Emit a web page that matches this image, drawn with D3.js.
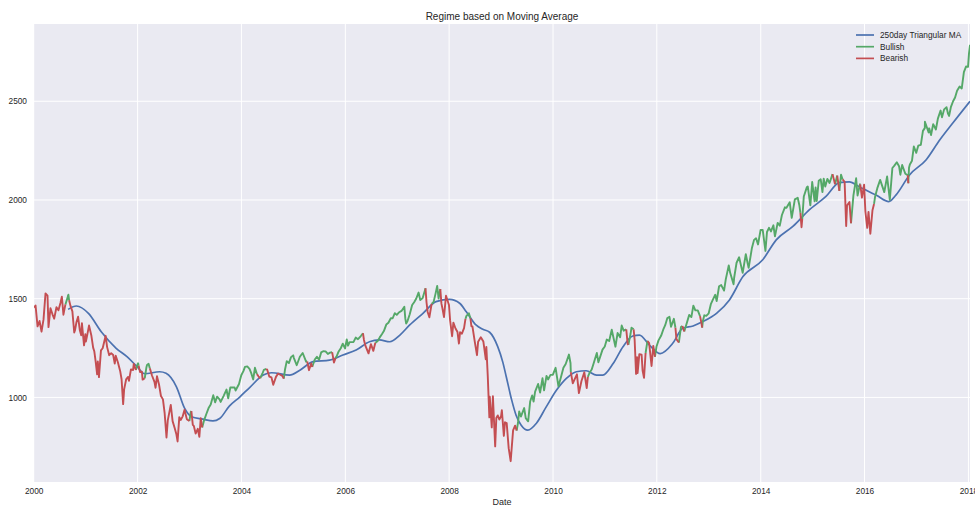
<!DOCTYPE html>
<html>
<head>
<meta charset="utf-8">
<script src="https://cdn.jsdelivr.net/npm/d3@7"></script>
<style>
  body { margin: 0; background: #fff; }
  svg { display: block; font-family: "Liberation Sans", Arial, sans-serif; }
</style>
</head>
<body>
<script>
// S&P 500 close (roughly two points a month)
const closePrices = [
  ["2000-01-03",1455],["2000-01-14",1465],["2000-01-28",1360],["2000-02-11",1387],["2000-02-25",1333],["2000-03-10",1395],
  ["2000-03-24",1527],["2000-04-07",1516],["2000-04-14",1356],["2000-04-28",1452],["2000-05-12",1421],["2000-05-24",1399],
  ["2000-06-09",1457],["2000-06-23",1441],["2000-07-07",1478],["2000-07-17",1510],["2000-07-28",1419],["2000-08-11",1471],
  ["2000-08-31",1517],["2000-09-01",1520],["2000-09-06",1492],["2000-09-15",1465],["2000-09-29",1436],["2000-10-12",1329],
  ["2000-10-18",1342],["2000-10-27",1379],["2000-11-08",1409],["2000-11-20",1342],["2000-11-30",1315],["2000-12-05",1376],
  ["2000-12-20",1264],["2000-12-29",1320],
  ["2001-01-02",1283],["2001-01-12",1318],["2001-01-24",1364],["2001-02-09",1315],["2001-02-22",1252],["2001-03-02",1234],
  ["2001-03-12",1180],["2001-03-22",1117],["2001-03-27",1182],["2001-04-04",1103],["2001-04-18",1238],["2001-04-30",1249],
  ["2001-05-21",1312],["2001-05-31",1256],["2001-06-15",1214],["2001-06-29",1224],["2001-07-13",1215],["2001-07-24",1171],
  ["2001-07-31",1211],["2001-08-15",1178],["2001-08-31",1134],["2001-09-10",1092],["2001-09-21",966],["2001-09-28",1041],
  ["2001-10-12",1091],["2001-10-26",1104],["2001-11-01",1084],["2001-11-15",1142],["2001-11-30",1139],["2001-12-05",1170],
  ["2001-12-20",1139],["2001-12-28",1161],
  ["2002-01-04",1173],["2002-01-08",1160],["2002-01-18",1128],["2002-01-31",1130],["2002-02-05",1090],["2002-02-20",1097],
  ["2002-03-04",1153],["2002-03-08",1164],["2002-03-19",1170],["2002-03-28",1147],["2002-04-12",1111],["2002-04-30",1077],
  ["2002-05-07",1049],["2002-05-17",1107],["2002-05-31",1067],["2002-06-14",1007],["2002-06-28",990],["2002-07-10",920],
  ["2002-07-23",797],["2002-08-01",884],["2002-08-22",962],["2002-09-04",880],["2002-09-19",844],["2002-09-30",815],
  ["2002-10-09",777],["2002-10-21",900],["2002-10-31",886],["2002-11-14",904],["2002-11-27",938],["2002-12-13",890],
  ["2002-12-31",880],
  ["2003-01-10",927],["2003-01-14",931],["2003-01-24",861],["2003-01-31",856],["2003-02-13",817],["2003-02-28",841],
  ["2003-03-11",800],["2003-03-21",895],["2003-03-31",848],["2003-04-14",885],["2003-04-30",917],["2003-05-15",946],
  ["2003-05-30",964],["2003-06-17",1011],["2003-06-30",975],["2003-07-14",1004],["2003-07-31",990],["2003-08-08",977],
  ["2003-08-29",1008],["2003-09-18",1040],["2003-09-30",996],["2003-10-15",1050],["2003-10-31",1051],["2003-11-14",1050],
  ["2003-11-21",1035],["2003-12-15",1068],["2003-12-31",1112],
  ["2004-01-15",1133],["2004-01-26",1155],["2004-02-11",1157],["2004-02-27",1145],["2004-03-10",1123],["2004-03-24",1091],
  ["2004-04-05",1150],["2004-04-19",1118],["2004-04-30",1107],["2004-05-12",1097],["2004-05-28",1121],["2004-06-07",1140],
  ["2004-06-23",1144],["2004-06-30",1141],["2004-07-15",1106],["2004-07-30",1102],["2004-08-12",1064],["2004-08-31",1104],
  ["2004-09-15",1121],["2004-09-30",1115],["2004-10-15",1109],["2004-10-25",1095],["2004-11-03",1143],["2004-11-15",1184],
  ["2004-11-30",1174],["2004-12-15",1204],["2004-12-30",1213],
  ["2005-01-03",1202],["2005-01-24",1163],["2005-02-15",1206],["2005-03-07",1225],["2005-03-31",1181],["2005-04-08",1182],
  ["2005-04-20",1138],["2005-05-06",1172],["2005-05-13",1154],["2005-05-31",1192],["2005-06-15",1206],["2005-06-30",1191],
  ["2005-07-15",1228],["2005-07-29",1234],["2005-08-15",1233],["2005-08-31",1220],["2005-09-15",1227],["2005-09-30",1229],
  ["2005-10-04",1214],["2005-10-13",1177],["2005-10-24",1199],["2005-10-31",1207],["2005-11-15",1233],["2005-11-30",1249],
  ["2005-12-14",1272],["2005-12-30",1248],
  ["2006-01-11",1294],["2006-01-20",1262],["2006-01-31",1280],["2006-02-15",1280],["2006-02-28",1281],["2006-03-15",1303],
  ["2006-03-31",1295],["2006-04-20",1311],["2006-05-05",1325],["2006-05-12",1291],["2006-05-22",1262],["2006-06-13",1223],
  ["2006-06-30",1270],["2006-07-17",1236],["2006-07-31",1277],["2006-08-15",1285],["2006-08-31",1304],["2006-09-15",1320],
  ["2006-09-29",1336],["2006-10-16",1369],["2006-10-31",1378],["2006-11-17",1401],["2006-11-30",1401],["2006-12-15",1427],
  ["2006-12-29",1418],
  ["2007-01-12",1430],["2007-01-31",1438],["2007-02-20",1459],["2007-02-27",1399],["2007-03-05",1374],["2007-03-15",1388],
  ["2007-03-30",1421],["2007-04-16",1468],["2007-04-30",1482],["2007-05-15",1501],["2007-05-31",1531],["2007-06-12",1493],
  ["2007-06-29",1503],["2007-07-19",1553],["2007-07-26",1482],["2007-08-03",1433],["2007-08-15",1406],["2007-08-31",1474],
  ["2007-09-14",1484],["2007-09-28",1527],["2007-10-09",1565],["2007-10-19",1501],["2007-10-31",1549],["2007-11-08",1475],
  ["2007-11-15",1451],["2007-11-26",1407],["2007-12-10",1515],["2007-12-31",1468],
  ["2008-01-08",1390],["2008-01-22",1310],["2008-01-31",1379],["2008-02-15",1349],["2008-02-29",1331],["2008-03-10",1273],
  ["2008-03-18",1330],["2008-03-31",1323],["2008-04-15",1351],["2008-04-25",1398],["2008-05-02",1413],["2008-05-19",1426],
  ["2008-05-30",1400],["2008-06-06",1360],["2008-06-13",1360],["2008-06-30",1280],["2008-07-15",1214],["2008-07-23",1282],
  ["2008-08-11",1305],["2008-08-29",1283],["2008-09-15",1193],["2008-09-19",1255],["2008-09-29",1106],["2008-10-10",899],
  ["2008-10-13",1003],["2008-10-27",848],["2008-11-04",1006],["2008-11-20",752],["2008-11-28",896],["2008-12-08",909],
  ["2008-12-19",888],["2008-12-31",903],
  ["2009-01-06",935],["2009-01-20",805],["2009-01-28",874],["2009-02-09",870],["2009-02-23",743],["2009-03-09",677],
  ["2009-03-26",833],["2009-04-09",857],["2009-04-20",832],["2009-04-30",873],["2009-05-08",929],["2009-05-20",903],
  ["2009-06-12",946],["2009-06-23",895],["2009-07-10",879],["2009-07-24",979],["2009-08-07",1010],["2009-08-17",979],
  ["2009-08-28",1029],["2009-09-18",1068],["2009-10-02",1025],["2009-10-19",1097],["2009-10-30",1036],["2009-11-16",1109],
  ["2009-11-27",1091],["2009-12-14",1114],["2009-12-31",1115],
  ["2010-01-19",1150],["2010-02-08",1056],["2010-02-26",1104],["2010-03-15",1150],["2010-03-31",1169],["2010-04-23",1217],
  ["2010-05-04",1173],["2010-05-06",1128],["2010-05-20",1071],["2010-05-31",1089],["2010-06-18",1117],["2010-07-02",1022],
  ["2010-07-20",1083],["2010-08-09",1127],["2010-08-26",1047],["2010-09-03",1104],["2010-09-15",1125],["2010-09-30",1141],
  ["2010-10-15",1176],["2010-11-05",1225],["2010-11-16",1178],["2010-12-15",1242],["2010-12-31",1258],
  ["2011-01-14",1293],["2011-01-31",1286],["2011-02-18",1343],["2011-03-01",1306],["2011-03-16",1257],["2011-03-31",1326],
  ["2011-04-18",1305],["2011-04-29",1364],["2011-05-13",1338],["2011-05-31",1345],["2011-06-10",1271],["2011-06-15",1266],
  ["2011-06-30",1321],["2011-07-07",1353],["2011-07-22",1345],["2011-07-29",1292],["2011-08-08",1119],["2011-08-15",1204],
  ["2011-08-19",1124],["2011-08-31",1219],["2011-09-16",1216],["2011-09-23",1136],["2011-10-03",1099],["2011-10-14",1225],
  ["2011-10-27",1285],["2011-10-28",1285],["2011-11-08",1275],["2011-11-25",1159],["2011-12-07",1261],["2011-12-19",1206],
  ["2011-12-30",1258],
  ["2012-01-13",1289],["2012-01-31",1312],["2012-02-15",1343],["2012-02-29",1366],["2012-03-15",1402],["2012-03-30",1408],
  ["2012-04-10",1358],["2012-04-30",1398],["2012-05-11",1353],["2012-05-18",1295],["2012-06-04",1278],["2012-06-19",1357],
  ["2012-06-29",1362],["2012-07-12",1334],["2012-07-31",1379],["2012-08-16",1418],["2012-08-31",1407],["2012-09-14",1465],
  ["2012-09-28",1441],["2012-10-15",1441],["2012-10-31",1412],["2012-11-09",1380],["2012-11-15",1353],["2012-11-20",1387],
  ["2012-11-30",1416],["2012-12-14",1413],["2012-12-31",1426],
  ["2013-01-15",1472],["2013-01-31",1498],["2013-02-15",1520],["2013-02-25",1488],["2013-03-14",1563],["2013-03-29",1569],
  ["2013-04-18",1541],["2013-04-30",1598],["2013-05-21",1669],["2013-05-31",1631],["2013-06-24",1573],["2013-06-28",1606],
  ["2013-07-15",1682],["2013-08-02",1710],["2013-08-27",1631],["2013-09-18",1726],["2013-09-30",1682],["2013-10-08",1656],
  ["2013-10-31",1757],["2013-11-15",1798],["2013-11-29",1806],["2013-12-13",1775],["2013-12-31",1848],
  ["2014-01-15",1848],["2014-02-03",1742],["2014-02-14",1838],["2014-02-28",1859],["2014-03-14",1841],["2014-03-31",1872],
  ["2014-04-11",1816],["2014-04-30",1884],["2014-05-15",1870],["2014-05-30",1924],["2014-06-20",1963],["2014-06-30",1960],
  ["2014-07-24",1988],["2014-08-07",1910],["2014-08-29",2003],["2014-09-18",2011],["2014-09-30",1972],["2014-10-07",1935],
  ["2014-10-10",1906],["2014-10-15",1862],["2014-10-20",1904],["2014-10-31",2018],["2014-11-21",2064],["2014-11-28",2068],
  ["2014-12-16",1973],["2014-12-29",2091],
  ["2015-01-15",1993],["2015-01-22",2063],["2015-01-30",1995],["2015-02-13",2097],["2015-02-27",2105],["2015-03-11",2040],
  ["2015-03-20",2108],["2015-03-31",2068],["2015-04-15",2107],["2015-04-30",2086],["2015-05-21",2131],["2015-06-08",2080],
  ["2015-06-23",2124],["2015-07-08",2046],["2015-07-20",2128],["2015-07-31",2104],["2015-08-14",2092],["2015-08-25",1868],
  ["2015-08-31",1972],["2015-09-17",1990],["2015-09-28",1882],["2015-10-15",2023],["2015-11-03",2110],["2015-11-13",2023],
  ["2015-11-30",2080],["2015-12-02",2079],["2015-12-14",2012],["2015-12-29",2078],
  ["2016-01-07",1943],["2016-01-20",1859],["2016-01-29",1940],["2016-02-11",1829],["2016-02-26",1948],["2016-03-08",1980],
  ["2016-03-15",2015],["2016-03-31",2060],["2016-04-20",2102],["2016-05-19",2040],["2016-06-08",2119],["2016-06-27",2001],
  ["2016-07-15",2162],["2016-07-29",2174],["2016-08-15",2191],["2016-08-31",2171],["2016-09-09",2128],["2016-09-22",2177],
  ["2016-10-14",2133],["2016-10-31",2126],["2016-11-04",2085],["2016-11-09",2163],["2016-11-15",2180],["2016-11-30",2199],
  ["2016-12-13",2271],["2016-12-30",2239],
  ["2017-01-13",2275],["2017-01-31",2279],["2017-02-15",2350],["2017-02-28",2364],["2017-03-01",2396],["2017-03-27",2342],
  ["2017-03-31",2363],["2017-04-13",2329],["2017-04-28",2384],["2017-05-17",2357],["2017-05-31",2412],["2017-06-19",2453],
  ["2017-06-29",2419],["2017-07-14",2459],["2017-07-31",2470],["2017-08-10",2438],["2017-08-18",2426],["2017-08-31",2472],
  ["2017-09-15",2500],["2017-09-29",2519],["2017-10-13",2553],["2017-10-31",2575],["2017-11-15",2565],["2017-11-30",2648],
  ["2017-12-15",2676],["2017-12-29",2674],["2018-01-05",2743],["2018-01-12",2786]
];

// 250 day triangular moving average
const movingAverage = [
  ["2000-08-30",1446],["2000-10-27",1463],["2001-01-20",1426],["2001-04-20",1333],["2001-08-03",1249],["2001-10-20",1205],
  ["2001-12-25",1158],["2002-02-20",1120],["2002-06-05",1130],["2002-07-20",1122],["2002-10-01",1054],["2002-11-28",944],
  ["2003-01-15",902],["2003-04-05",890],["2003-06-15",881],["2003-08-01",893],["2003-10-08",956],["2003-12-20",1002],
  ["2004-02-28",1050],["2004-06-03",1113],["2004-08-01",1125],["2004-12-05",1113],["2005-02-15",1138],["2005-05-20",1181],
  ["2005-09-12",1189],["2005-12-15",1215],["2006-03-18",1240],["2006-06-20",1282],["2006-08-28",1291],["2006-11-10",1282],
  ["2007-01-20",1316],["2007-03-30",1367],["2007-07-01",1426],["2007-10-01",1485],["2008-01-05",1497],["2008-03-15",1477],
  ["2008-05-01",1434],["2008-07-08",1367],["2008-08-25",1345],["2008-10-12",1330],["2008-12-08",1257],["2009-01-12",1180],
  ["2009-02-06",1105],["2009-03-15",990],["2009-04-16",910],["2009-05-22",859],["2009-07-08",834],["2009-09-05",868],
  ["2009-11-14",952],["2010-01-26",1037],["2010-04-05",1096],["2010-06-14",1130],["2010-08-22",1135],["2010-11-03",1113],
  ["2010-12-17",1113],["2011-03-01",1173],["2011-05-08",1257],["2011-07-16",1311],["2011-09-01",1316],["2011-11-10",1265],
  ["2012-01-25",1222],["2012-04-22",1274],["2012-07-01",1350],["2012-09-12",1362],["2012-11-20",1384],["2013-02-24",1426],
  ["2013-05-26",1494],["2013-08-29",1612],["2014-01-15",1697],["2014-04-20",1798],["2014-08-15",1866],["2014-12-10",1951],
  ["2015-04-05",2018],["2015-07-08",2088],["2015-09-16",2092],["2015-11-28",2066],["2016-02-06",2040],["2016-03-25",2024],
  ["2016-06-20",1992],["2016-08-10",2026],["2016-11-14",2128],["2017-03-10",2204],["2017-06-14",2305],["2017-09-13",2390],
  ["2018-01-12",2500]
];

// stretches where the regime is bullish (green); everything else is bearish (red)
const bullishPeriods = [
  ["2000-08-30","2000-09-07"],["2001-12-27","2002-01-09"],["2002-03-01","2002-04-02"],["2003-01-07","2003-01-21"],
  ["2003-04-14","2004-04-23"],["2004-05-27","2004-06-28"],["2004-10-29","2005-04-08"],["2005-05-16","2005-10-03"],
  ["2005-10-25","2006-05-11"],["2006-08-14","2007-07-25"],["2007-09-10","2007-11-06"],["2008-04-28","2008-06-02"],
  ["2009-04-28","2010-05-07"],["2010-09-14","2011-06-03"],["2011-06-28","2011-07-27"],["2011-10-25","2011-10-31"],
  ["2011-12-27","2012-05-11"],["2012-06-18","2012-07-09"],["2012-07-16","2012-11-07"],["2012-11-19","2014-10-08"],
  ["2014-10-21","2015-06-05"],["2015-06-18","2015-07-06"],["2015-07-14","2015-08-04"],["2015-10-09","2015-12-08"],
  ["2016-03-10","2016-11-01"],["2016-11-09","2018-01-12"]
];

const yTicks = [1000, 1500, 2000, 2500];
const xTickYears = [2000, 2002, 2004, 2006, 2008, 2010, 2012, 2014, 2016, 2018];
const seriesNames = ["250day Triangular MA", "Bullish", "Bearish"];
const seriesColors = ["#4C72B0", "#55A868", "#C44E52"];

const width = 975, height = 505;
const margin = { top: 24, right: 5, bottom: 23, left: 34 };
const parse = d3.utcParse("%Y-%m-%d");

const closeData = closePrices.map(([d, v]) => ({ date: parse(d), value: v }));
const maData = movingAverage.map(([d, v]) => ({ date: parse(d), value: v }));
const periods = bullishPeriods.map(([a, b]) => [parse(a), parse(b)]);

closeData.forEach(d => {
    d.bull = periods.some(([a, b]) => d.date >= a && d.date <= b);
});

// split the close series into runs of one regime; each run starts at the last point of the previous one
function regimeRuns(data) {
    const runs = [];
    let current = null;
    data.forEach((d, i) => {
        if (!current || current.bull !== d.bull) {
            current = { bull: d.bull, points: i > 0 ? [data[i - 1]] : [] };
            runs.push(current);
        }
        current.points.push(d);
    });
    return runs;
}
const runs = regimeRuns(closeData);

// matplotlib style 5% margins on the value axis
const [vmin, vmax] = d3.extent(closeData, d => d.value);
const pad = (vmax - vmin) * 0.05;

const x = d3.scaleUtc()
    .domain(d3.extent(closeData, d => d.date))
    .range([margin.left, width - margin.right]);
const y = d3.scaleLinear()
    .domain([vmin - pad, vmax + pad])
    .range([height - margin.bottom, margin.top]);

const svg = d3.select("body").append("svg")
    .attr("width", width)
    .attr("height", height);

svg.append("rect")
    .attr("x", margin.left).attr("y", margin.top)
    .attr("width", width - margin.left - margin.right)
    .attr("height", height - margin.top - margin.bottom)
    .attr("fill", "#EAEAF2");

const xTicks = xTickYears.map(yr => new Date(Date.UTC(yr, 0, 1)));

// grid
svg.append("g")
    .selectAll("line")
    .data(xTicks)
    .join("line")
    .attr("x1", d => x(d)).attr("x2", d => x(d))
    .attr("y1", margin.top).attr("y2", height - margin.bottom)
    .attr("stroke", "#fff").attr("stroke-width", 1);
svg.append("g")
    .selectAll("line")
    .data(yTicks)
    .join("line")
    .attr("x1", margin.left).attr("x2", width - margin.right)
    .attr("y1", d => y(d)).attr("y2", d => y(d))
    .attr("stroke", "#fff").attr("stroke-width", 1);

// axes (labels only, seaborn darkgrid has no spines or tick marks)
const xAxis = svg.append("g")
    .attr("transform", `translate(0,${height - margin.bottom})`)
    .call(d3.axisBottom(x).tickValues(xTicks).tickFormat(d3.utcFormat("%Y")).tickSize(0).tickPadding(6));
const yAxis = svg.append("g")
    .attr("transform", `translate(${margin.left},0)`)
    .call(d3.axisLeft(y).tickValues(yTicks).tickFormat(d3.format("d")).tickSize(0).tickPadding(7));
[xAxis, yAxis].forEach(g => {
    g.select(".domain").remove();
    g.selectAll("text")
        .attr("fill", "#262626")
        .style("font-size", "8.3px")
        .style("font-family", "'Liberation Sans', Arial, sans-serif");
});

// lines
svg.append("clipPath").attr("id", "plot")
    .append("rect")
    .attr("x", margin.left).attr("y", margin.top)
    .attr("width", width - margin.left - margin.right)
    .attr("height", height - margin.top - margin.bottom);

const line = d3.line()
    .x(d => x(d.date))
    .y(d => y(d.value));

const plot = svg.append("g").attr("clip-path", "url(#plot)");

plot.append("path")
    .datum(maData)
    .attr("fill", "none")
    .attr("stroke", seriesColors[0])
    .attr("stroke-width", 1.7)
    .attr("d", line.curve(d3.curveMonotoneX));

line.curve(d3.curveLinear);
// bullish first, bearish on top
[true, false].forEach(bull => {
    plot.append("g")
        .selectAll("path")
        .data(runs.filter(r => r.bull === bull))
        .join("path")
        .attr("fill", "none")
        .attr("stroke", bull ? seriesColors[1] : seriesColors[2])
        .attr("stroke-width", 1.9)
        .attr("stroke-linejoin", "round")
        .attr("d", r => line(r.points));
});

// title and axis label
svg.append("text")
    .attr("x", (margin.left + width - margin.right) / 2)
    .attr("y", 19.5)
    .attr("text-anchor", "middle")
    .attr("fill", "#262626")
    .style("font-size", "10px")
    .text("Regime based on Moving Average");

svg.append("text")
    .attr("x", (margin.left + width - margin.right) / 2)
    .attr("y", 504.5)
    .attr("text-anchor", "middle")
    .attr("fill", "#262626")
    .style("font-size", "9px")
    .text("Date");

// legend
const legend = svg.append("g")
    .selectAll("g")
    .data(seriesNames)
    .join("g")
    .attr("transform", (d, i) => `translate(856,${35 + i * 11.7})`);
legend.append("line")
    .attr("x1", 0).attr("x2", 18)
    .attr("stroke", (d, i) => seriesColors[i])
    .attr("stroke-width", 1.7);
legend.append("text")
    .attr("x", 24)
    .attr("dy", "0.35em")
    .attr("fill", "#262626")
    .style("font-size", "8.3px")
    .text(d => d);
</script>
</body>
</html>
